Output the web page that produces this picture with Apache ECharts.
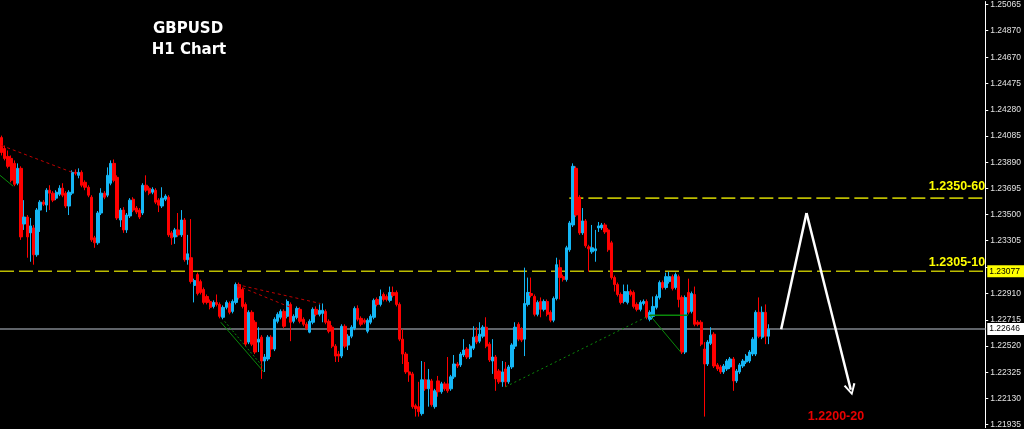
<!DOCTYPE html>
<html><head><meta charset="utf-8">
<script src="https://cdn.jsdelivr.net/npm/echarts@6/dist/echarts.min.js"></script>
<style>html,body{margin:0;padding:0;background:#000}#c{width:1024px;height:429px}</style>
</head><body><div id="c"></div>
<script>
// ---- candle data (GBPUSD H1) ----
const open=[1.24073,1.23992,1.23933,1.23918,1.23881,1.23733,1.23844,1.23429,1.23481,1.23363,1.23400,1.23200,1.23533,1.23592,1.23570,1.23681,1.23659,1.23622,1.23651,1.23696,
1.23659,1.23563,1.23659,1.23814,1.23792,1.23814,1.23740,1.23703,1.23629,1.23326,1.23289,1.23511,1.23659,1.23644,1.23733,1.23881,1.23777,1.23459,1.23533,1.23385,
1.23489,1.23614,1.23548,1.23533,1.23511,1.23718,1.23696,1.23666,1.23681,1.23607,1.23563,1.23614,1.23629,1.23363,1.23333,1.23385,1.23348,1.23459,1.23163,1.23178,
1.22971,1.23052,1.23000,1.22941,1.22889,1.22852,1.22815,1.22845,1.22830,1.22734,1.22808,1.22837,1.22778,1.22845,1.22978,1.22941,1.22830,1.22549,1.22771,1.22697,
1.22549,1.22586,1.22408,1.22423,1.22586,1.22497,1.22704,1.22734,1.22778,1.22741,1.22830,1.22704,1.22734,1.22793,1.22719,1.22682,1.22623,1.22697,1.22793,1.22756,
1.22763,1.22778,1.22704,1.22660,1.22519,1.22460,1.22445,1.22667,1.22527,1.22593,1.22652,1.22800,1.22726,1.22712,1.22630,1.22697,1.22734,1.22867,1.22830,1.22904,
1.22889,1.22860,1.22919,1.22919,1.22830,1.22571,1.22460,1.22327,1.22312,1.22075,1.22068,1.22016,1.22268,1.22201,1.22260,1.22068,1.22260,1.22179,1.22238,1.22238,
1.22201,1.22290,1.22386,1.22379,1.22453,1.22497,1.22438,1.22504,1.22593,1.22556,1.22593,1.22660,1.22534,1.22408,1.22438,1.22334,1.22253,1.22349,1.22253,1.22364,
1.22519,1.22682,1.22645,1.22571,1.22830,1.22911,1.22889,1.22756,1.22852,1.22793,1.22852,1.22771,1.22712,1.22874,1.23104,1.23037,1.23015,1.23237,1.23422,1.23844,
1.23629,1.23363,1.23452,1.23259,1.23222,1.23230,1.23400,1.23400,1.23422,1.23385,1.23289,1.23030,1.22978,1.22904,1.22852,1.22845,1.22926,1.22919,1.22830,1.22793,
1.22837,1.22852,1.22719,1.22741,1.22808,1.22882,1.22993,1.22956,1.23000,1.23037,1.22956,1.23037,1.22882,1.22475,1.22919,1.22778,1.22904,1.22697,1.22697,1.22497,
1.22386,1.22541,1.22608,1.22379,1.22364,1.22327,1.22349,1.22364,1.22423,1.22260,1.22327,1.22371,1.22401,1.22408,1.22460,1.22460,1.22771,1.22586,1.22771,1.22593];
const close=[1.23962,1.23918,1.23859,1.23755,1.23725,1.23844,1.23333,1.23481,1.23333,1.23415,1.23200,1.23533,1.23592,1.23577,1.23681,1.23659,1.23607,1.23666,1.23696,1.23644,
1.23563,1.23666,1.23814,1.23807,1.23814,1.23718,1.23703,1.23644,1.23311,1.23289,1.23511,1.23659,1.23629,1.23792,1.23881,1.23755,1.23474,1.23533,1.23385,1.23496,
1.23607,1.23533,1.23518,1.23481,1.23718,1.23681,1.23659,1.23688,1.23592,1.23570,1.23622,1.23637,1.23348,1.23326,1.23385,1.23348,1.23459,1.23163,1.23207,1.23000,
1.23008,1.22911,1.22919,1.22845,1.22845,1.22808,1.22845,1.22830,1.22741,1.22808,1.22845,1.22771,1.22852,1.22978,1.22882,1.22815,1.22534,1.22771,1.22534,1.22475,
1.22571,1.22408,1.22438,1.22586,1.22497,1.22719,1.22756,1.22778,1.22667,1.22852,1.22697,1.22741,1.22800,1.22704,1.22682,1.22652,1.22704,1.22793,1.22756,1.22786,
1.22786,1.22697,1.22630,1.22519,1.22445,1.22445,1.22667,1.22519,1.22593,1.22660,1.22800,1.22719,1.22682,1.22697,1.22712,1.22741,1.22860,1.22830,1.22889,1.22867,
1.22867,1.22919,1.22897,1.22830,1.22571,1.22460,1.22327,1.22305,1.22068,1.22053,1.22031,1.22268,1.22201,1.22268,1.22083,1.22186,1.22179,1.22238,1.22201,1.22186,
1.22290,1.22386,1.22371,1.22460,1.22490,1.22438,1.22519,1.22586,1.22549,1.22608,1.22660,1.22519,1.22416,1.22438,1.22275,1.22253,1.22327,1.22253,1.22364,1.22527,
1.22660,1.22571,1.22564,1.22837,1.22919,1.22897,1.22756,1.22845,1.22793,1.22852,1.22756,1.22712,1.22874,1.23126,1.23030,1.23015,1.23252,1.23437,1.23859,1.23496,
1.23363,1.23452,1.23267,1.23244,1.23252,1.23244,1.23415,1.23422,1.23370,1.23237,1.23030,1.22978,1.22904,1.22845,1.22926,1.22926,1.22904,1.22815,1.22793,1.22845,
1.22852,1.22734,1.22771,1.22815,1.22889,1.22993,1.22956,1.23037,1.23037,1.22948,1.23052,1.22867,1.22475,1.22882,1.22771,1.22911,1.22682,1.22682,1.22534,1.22386,
1.22549,1.22601,1.22371,1.22349,1.22327,1.22371,1.22408,1.22423,1.22260,1.22334,1.22379,1.22408,1.22445,1.22475,1.22571,1.22771,1.22593,1.22771,1.22593,1.22645];
const low=[1.23940,1.23903,1.23844,1.23740,1.23711,1.23718,1.23311,1.23385,1.23178,1.23148,1.23126,1.23185,1.23370,1.23563,1.23518,1.23533,1.23592,1.23607,1.23637,1.23629,
1.23548,1.23496,1.23644,1.23792,1.23770,1.23703,1.23681,1.23629,1.23296,1.23252,1.23274,1.23496,1.23614,1.23629,1.23718,1.23740,1.23459,1.23407,1.23363,1.23363,
1.23474,1.23518,1.23503,1.23466,1.23496,1.23666,1.23644,1.23651,1.23577,1.23518,1.23548,1.23600,1.23333,1.23274,1.23281,1.23333,1.23333,1.23148,1.23126,1.22985,
1.22845,1.22897,1.22904,1.22830,1.22830,1.22793,1.22800,1.22815,1.22726,1.22719,1.22793,1.22756,1.22763,1.22830,1.22867,1.22800,1.22519,1.22534,1.22519,1.22460,
1.22475,1.22275,1.22327,1.22408,1.22438,1.22482,1.22689,1.22719,1.22652,1.22726,1.22556,1.22689,1.22719,1.22689,1.22667,1.22638,1.22615,1.22682,1.22741,1.22741,
1.22697,1.22682,1.22615,1.22504,1.22401,1.22401,1.22430,1.22504,1.22490,1.22578,1.22638,1.22704,1.22667,1.22682,1.22615,1.22682,1.22719,1.22815,1.22815,1.22852,
1.22852,1.22845,1.22882,1.22815,1.22556,1.22386,1.22312,1.22253,1.22053,1.21994,1.21994,1.22001,1.22186,1.22068,1.22068,1.22053,1.22142,1.22164,1.22186,1.22171,
1.22186,1.22275,1.22356,1.22364,1.22438,1.22423,1.22423,1.22490,1.22534,1.22541,1.22578,1.22504,1.22401,1.22312,1.22186,1.22238,1.22216,1.22216,1.22238,1.22349,
1.22497,1.22556,1.22549,1.22445,1.22815,1.22882,1.22741,1.22741,1.22734,1.22778,1.22741,1.22697,1.22697,1.22860,1.22867,1.23000,1.23000,1.23222,1.23407,1.23481,
1.23348,1.23348,1.23252,1.23074,1.23207,1.23148,1.23370,1.23385,1.23355,1.23222,1.23015,1.22926,1.22889,1.22830,1.22837,1.22830,1.22889,1.22800,1.22778,1.22778,
1.22823,1.22719,1.22704,1.22726,1.22793,1.22867,1.22941,1.22941,1.22985,1.22934,1.22941,1.22808,1.22460,1.22460,1.22756,1.22763,1.22667,1.22667,1.22519,1.21994,
1.22371,1.22527,1.22356,1.22334,1.22312,1.22312,1.22334,1.22349,1.22186,1.22245,1.22312,1.22356,1.22386,1.22393,1.22445,1.22445,1.22578,1.22571,1.22534,1.22534];
const high=[1.24088,1.24014,1.23977,1.23940,1.23903,1.23881,1.23859,1.23607,1.23496,1.23474,1.23422,1.23548,1.23607,1.23607,1.23696,1.23718,1.23674,1.23681,1.23718,1.23733,
1.23674,1.23681,1.23829,1.23836,1.23844,1.23829,1.23755,1.23718,1.23644,1.23341,1.23526,1.23696,1.23674,1.23851,1.23903,1.23910,1.23792,1.23548,1.23555,1.23511,
1.23622,1.23629,1.23563,1.23548,1.23733,1.23792,1.23711,1.23703,1.23696,1.23622,1.23703,1.23651,1.23644,1.23378,1.23400,1.23511,1.23533,1.23474,1.23348,1.23466,
1.23022,1.23067,1.23015,1.22956,1.22904,1.22867,1.22860,1.22904,1.22845,1.22823,1.22860,1.22852,1.22867,1.22993,1.22993,1.22956,1.22845,1.22786,1.22786,1.22712,
1.22660,1.22601,1.22460,1.22601,1.22601,1.22734,1.22771,1.22793,1.22793,1.22867,1.22845,1.22756,1.22815,1.22808,1.22734,1.22697,1.22719,1.22808,1.22815,1.22830,
1.22837,1.22793,1.22719,1.22675,1.22534,1.22482,1.22682,1.22682,1.22608,1.22675,1.22815,1.22823,1.22741,1.22726,1.22726,1.22756,1.22874,1.22882,1.22941,1.22919,
1.22904,1.22963,1.22963,1.22934,1.22845,1.22645,1.22475,1.22401,1.22327,1.22090,1.22253,1.22408,1.22401,1.22349,1.22275,1.22201,1.22297,1.22253,1.22253,1.22438,
1.22305,1.22453,1.22401,1.22475,1.22571,1.22512,1.22534,1.22667,1.22660,1.22697,1.22675,1.22734,1.22549,1.22571,1.22453,1.22349,1.22408,1.22401,1.22379,1.22541,
1.22697,1.22697,1.22660,1.23104,1.23030,1.23030,1.22904,1.22860,1.22882,1.22867,1.22867,1.22786,1.22889,1.23178,1.23163,1.23052,1.23267,1.23452,1.23881,1.23859,
1.23644,1.23548,1.23466,1.23274,1.23422,1.23385,1.23444,1.23437,1.23437,1.23400,1.23304,1.23045,1.22993,1.22919,1.22978,1.22978,1.22941,1.22934,1.22845,1.22860,
1.22867,1.22867,1.22786,1.22889,1.22904,1.23008,1.23008,1.23067,1.23074,1.23052,1.23067,1.23052,1.22897,1.22897,1.23022,1.22926,1.22963,1.22712,1.22712,1.22549,
1.22564,1.22660,1.22623,1.22393,1.22379,1.22386,1.22423,1.22438,1.22438,1.22349,1.22393,1.22423,1.22460,1.22490,1.22586,1.22786,1.22882,1.22815,1.22830,1.22682];

// axis ticks (price labels on the right scale)
const tickValues=[1.25065,1.24870,1.24670,1.24475,1.24280,1.24085,1.23890,1.23695,1.23500,1.23305,1.23110,1.22910,1.22715,1.22520,1.22325,1.22130,1.21935];
const labelValues=[1.25065,1.24870,1.24670,1.24475,1.24280,1.24085,1.23890,1.23695,1.23500,1.23305,1.22910,1.22715,1.22520,1.22325,1.22130,1.21935];
const yMin=1.21912, yMax=1.25087;
const slotCount=307; // bars + empty right margin of the chart
const categories=Array.from({length:slotCount},(_,i)=>String(i));

// levels
const supportLevel=1.23077;     // yellow dashed full width
const bidLevel=1.22646;         // current price line
const resistLevel=1.23622;      // upper yellow dashed

// annotation lines [barIndex, price]
const supportSeg=[[-0.5,supportLevel],[306.5,supportLevel]];
const bidSeg=[[-0.5,bidLevel],[306.5,bidLevel]];
const resistSeg=[[176.9,resistLevel],[306.5,resistLevel]];
const redDash1=[[0,1.24014],[22,1.23814]];
const green1=[[-0.5,1.23792],[3.6,1.23711]];
const redDash2=[[73.3,1.22978],[99.3,1.22837]];
const redDash3=[[73.3,1.22971],[90,1.22808]];
const green2=[[68.3,1.22697],[81.7,1.22327]];
const greenDot2=[[69.5,1.22704],[81.2,1.22371]];
const greenDot3=[[157,1.22216],[202,1.22749]];
const green3=[[202,1.22749],[213.8,1.22749]];
const green4=[[202,1.22749],[211.6,1.22475]];
const forecast=[[242.9,1.22645],[250.8,1.23511],[264.6,1.22194]];

const candles=open.map((o,i)=>[o,close[i],low[i],high[i]]);
const UP='#14b6f5', DN='#ff0000';

function lineS(data,color,type,width,z){
  return {type:'line',xAxisIndex:1,yAxisIndex:0,data:data,symbol:'none',silent:true,
    lineStyle:{color:color,type:type,width:width},z:z||3,animation:false};
}
function priceTag(text,bg){
  return {show:true,formatter:text,color:'#000',backgroundColor:bg,fontSize:8.5,fontFamily:'Liberation Sans',padding:[2,4,1,2],distance:2};
}

const chart=echarts.init(document.getElementById('c'),null,{renderer:'canvas'});
chart.setOption({
  backgroundColor:'#000000',
  animation:false,
  grid:{left:0,right:34,top:0,bottom:0,containLabel:false},
  xAxis:[
    {type:'category',data:categories,show:false,boundaryGap:true},
    {type:'value',min:-0.5,max:slotCount-0.5,show:false}
  ],
  yAxis:{type:'value',position:'right',min:yMin,max:yMax,scale:true,
    splitLine:{show:false},
    axisLine:{show:true,onZero:false,lineStyle:{color:'#ffffff',width:1}},
    axisTick:{show:true,length:3,lineStyle:{color:'#ffffff'},customValues:tickValues},
    axisLabel:{show:true,color:'#e2e2e2',fontSize:8.5,fontFamily:'Liberation Sans',margin:5,
      customValues:labelValues,formatter:v=>v.toFixed(5)}
  },
  graphic:[
    {type:'text',style:{x:188,y:29,text:'GBPUSD',textAlign:'center',textVerticalAlign:'middle',font:'bold 15px DejaVu Sans',fill:'#ffffff'}},
    {type:'text',style:{x:189,y:50,text:'H1 Chart',textAlign:'center',textVerticalAlign:'middle',font:'bold 15px DejaVu Sans',fill:'#ffffff'}},
    {type:'text',style:{x:957,y:187,text:'1.2350-60',textAlign:'center',textVerticalAlign:'middle',font:'bold 12.5px Liberation Sans',fill:'#ffff00'}},
    {type:'text',style:{x:957,y:263,text:'1.2305-10',textAlign:'center',textVerticalAlign:'middle',font:'bold 12.5px Liberation Sans',fill:'#ffff00'}},
    {type:'text',style:{x:836,y:417,text:'1.2200-20',textAlign:'center',textVerticalAlign:'middle',font:'bold 12.5px Liberation Sans',fill:'#e80000'}}
  ],
  series:[
    {type:'candlestick',data:candles,barWidth:2.8,z:2,
      itemStyle:{color:UP,color0:DN,borderColor:UP,borderColor0:DN,borderWidth:1}},
    Object.assign(lineS(bidSeg,'#5f6369','solid',2,1),{endLabel:priceTag('1.22646','#ffffff')}),
    Object.assign(lineS(supportSeg,'#bcbc00',[14,5],1.6,1),{endLabel:priceTag('1.23077','#ffff00')}),
    lineS(resistSeg,'#bcbc00',[14,5],1.6,1),
    lineS(redDash1,'#c00000',[3,3],1),
    lineS(green1,'#0a8a0a','solid',1),
    lineS(redDash2,'#c00000',[3,3],1),
    lineS(redDash3,'#c00000',[3,3],1),
    lineS(green2,'#0a8a0a','solid',1),
    lineS(greenDot2,'#0a8a0a',[2,2],1),
    lineS(greenDot3,'#0a8a0a',[2,3],1),
    lineS(green3,'#0a8a0a','solid',1.5),
    lineS(green4,'#0a8a0a','solid',1),
    lineS(forecast.slice(0,2),'#ffffff','solid',2.5,5),
    {type:'line',xAxisIndex:1,yAxisIndex:0,data:[],silent:true,z:5,
      markLine:{silent:true,animation:false,symbol:['none','path://M5,0L10,9L8.4,9.8L5,3L1.6,9.8L0,9Z'],symbolSize:[12,12],
        lineStyle:{color:'#ffffff',width:2.5,type:'solid'},label:{show:false},
        data:[[{coord:forecast[1]},{coord:forecast[2]}]]}}
  ]
});
</script>
</body></html>
